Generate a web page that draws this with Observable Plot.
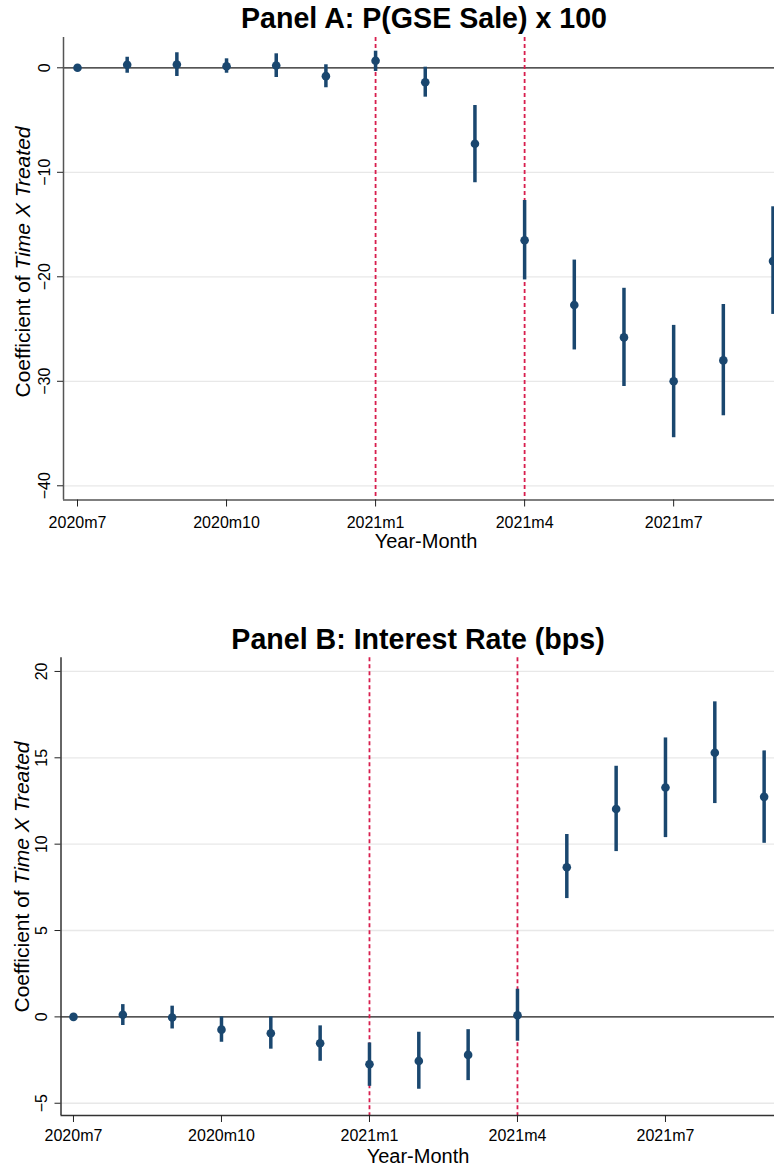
<!DOCTYPE html>
<html><head><meta charset="utf-8">
<script src="https://cdn.jsdelivr.net/npm/d3@7"></script>
<script src="https://cdn.jsdelivr.net/npm/@observablehq/plot@0.6"></script>
<style>
body{margin:0;background:#fff;font-family:"Liberation Sans",Arial,sans-serif;}
#root{position:relative;width:774px;height:1166px;overflow:hidden;background:#fff;}
.abs{position:absolute;white-space:nowrap;line-height:1;color:#000;}
.title{font-weight:bold;font-size:28.6px;transform:translateX(-50%);}
.xlab{font-size:20px;transform:translateX(-50%);}
.ylab{font-size:21px;transform:translate(-50%,-50%) rotate(-90deg);}
.svgbox{position:absolute;left:0;}
</style></head><body><div id="root"></div>
<script>
const months = ["2020m7","2020m8","2020m9","2020m10","2020m11","2020m12","2021m1","2021m2","2021m3","2021m4","2021m5","2021m6","2021m7","2021m8","2021m9"];
const xTickLabels = ["2020m7","2020m10","2021m1","2021m4","2021m7"];
const eventMonths = ["2021m1","2021m4"];

const gseCoef = [0, 0.29, 0.32, 0.15, 0.22, -0.80, 0.67, -1.38, -7.27, -16.5, -22.7, -25.8, -30.0, -28.0, -18.5];
const gseLow  = [null, -0.52, -0.83, -0.52, -0.93, -1.91, -0.35, -2.81, -11.0, -20.3, -27.0, -30.5, -35.4, -33.3, -23.6];
const gseHigh = [null, 1.01, 1.44, 0.86, 1.34, 0.29, 1.59, 0.06, -3.61, -12.7, -18.4, -21.1, -24.65, -22.65, -13.3];
const gseYTicks = [0, -10, -20, -30, -40];

const rateCoef = [0, 0.12, -0.04, -0.74, -0.95, -1.53, -2.74, -2.55, -2.2, 0.09, 8.66, 12.04, 13.28, 15.29, 12.74];
const rateLow  = [null, -0.50, -0.70, -1.47, -1.87, -2.57, -4.02, -4.19, -3.69, -1.41, 6.85, 9.57, 10.38, 12.35, 10.05];
const rateHigh = [null, 0.71, 0.62, 0.0, 0.0, -0.52, -1.51, -0.89, -0.74, 1.60, 10.56, 14.51, 16.15, 18.24, 15.40];
const rateYTicks = [20, 15, 10, 5, 0, -5];

const navy = "#1a476f";
const root = document.getElementById("root");

function addText(cls, html, left, top) {
  const d = document.createElement("div");
  d.className = "abs " + cls;
  d.innerHTML = html;
  d.style.left = left + "px";
  d.style.top = top + "px";
  root.appendChild(d);
}

function panel(o) {
  const rows = months.map((m, i) => ({i, m, c: o.coef[i], lo: o.low[i], hi: o.high[i]}));
  const ci = rows.filter(d => d.lo != null && d.hi != null);
  const tickIdx = xTickLabels.map(l => months.indexOf(l));
  const eventIdx = eventMonths.map(l => months.indexOf(l));
  const chart = Plot.plot({
    width: 774, height: o.height,
    marginTop: o.marginTop, marginBottom: o.marginBottom, marginLeft: o.marginLeft, marginRight: 0,
    style: {fontFamily: "Liberation Sans, Arial, sans-serif", background: "white", color: "#000"},
    x: {domain: o.xDomain, axis: null},
    y: {domain: o.yDomain, axis: null},
    marks: [
      Plot.ruleY(o.yTicks, {stroke: "#e8e8e8", strokeWidth: 1.3}),
      Plot.ruleY([0], {stroke: "#222", strokeWidth: 1.2}),
      Plot.ruleX(eventIdx, {stroke: "#d81e4e", strokeWidth: 1.8, strokeDasharray: "4,3"}),
      Plot.ruleX(ci, {x: "i", y1: "lo", y2: "hi", stroke: navy, strokeWidth: 3.5}),
      Plot.dot(rows, {x: "i", y: "c", r: 4.3, fill: navy}),
      Plot.ruleX([o.xDomain[0]], {stroke: o.axisColor, strokeWidth: 1.5}),
      Plot.ruleY([o.yDomain[0]], {stroke: o.axisColor, strokeWidth: 1.5}),
      Plot.axisX(tickIdx, {tickFormat: i => months[i], tickSize: 7, tickPadding: o.xPad, fontSize: 16, stroke: "#222", label: null}),
      Plot.axisY(o.yTicks, {tickRotate: -90, tickSize: 6, tickPadding: 8, fontSize: 16, stroke: "#222", label: null})
    ]
  });
  const box = document.createElement("div");
  box.className = "svgbox";
  box.style.top = o.top + "px";
  box.appendChild(chart);
  root.appendChild(box);
}

panel({coef: gseCoef, low: gseLow, high: gseHigh, yTicks: gseYTicks,
  yDomain: [-41.36, 2.9], xDomain: [-0.282, 14.03], xPad: 10,
  top: 0, height: 560, marginTop: 37, marginBottom: 60.5, marginLeft: 63, axisColor: "#555"});
panel({coef: rateCoef, low: rateLow, high: rateHigh, yTicks: rateYTicks,
  yDomain: [-5.71, 20.79], xDomain: [-0.253, 14.21], xPad: 7,
  top: 600, height: 566, marginTop: 57.3, marginBottom: 51, marginLeft: 60.5, axisColor: "#333"});

addText("title", "Panel A: P(GSE Sale) x 100", 424, 3.8);
addText("title", "Panel B: Interest Rate (bps)", 418, 625);
addText("xlab", "Year-Month", 426, 531);
addText("xlab", "Year-Month", 418, 1146);
addText("ylab", "Coefficient of <i>Time X Treated</i>", 22, 262);
addText("ylab", "Coefficient of <i>Time X Treated</i>", 21, 877);
</script>
</body></html>
